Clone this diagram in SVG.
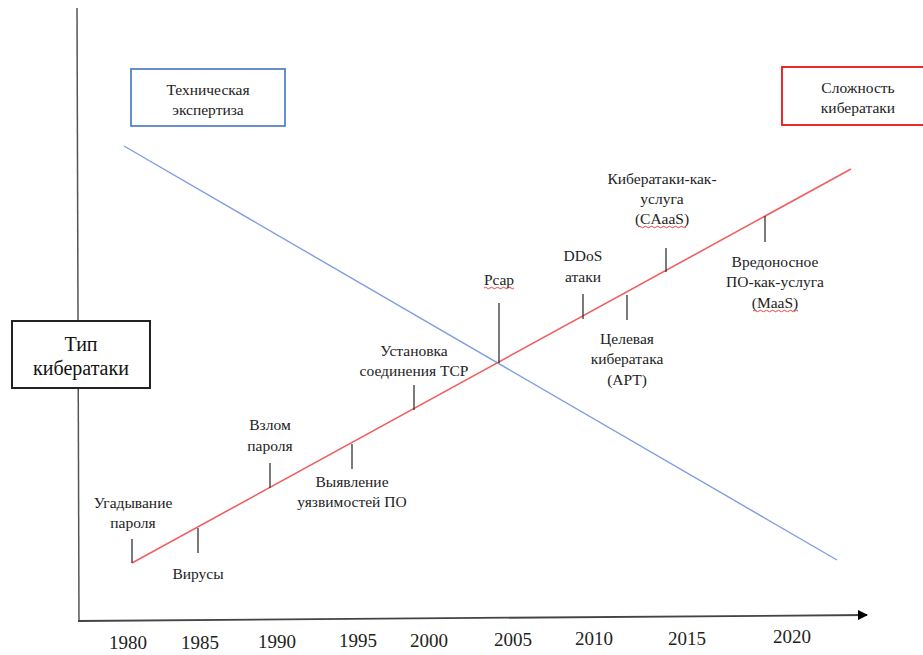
<svg xmlns="http://www.w3.org/2000/svg" width="923" height="655" viewBox="0 0 923 655" font-family="Liberation Serif, Tinos, DejaVu Serif, Noto Serif, serif">
<style>
.t{font-size:15.5px;fill:#222;text-anchor:middle}
.y{font-size:19px;fill:#222;text-anchor:middle}
.big{font-size:20px;fill:#111;text-anchor:middle}
.tick{stroke:#333;stroke-width:1.3}
.sq{fill:none;stroke:#e03030;stroke-width:0.9}
</style>
<defs>
<marker id="arr" markerWidth="10" markerHeight="10" refX="9" refY="5" orient="auto" markerUnits="userSpaceOnUse">
<path d="M0,0 L10,5 L0,10 Z" fill="#000"/>
</marker>
</defs>
<rect width="923" height="655" fill="#fff"/>
<g id="connectors">
<line id="y-axis" x1="77" y1="8" x2="79" y2="621" stroke="#555" stroke-width="1.5"/>
<line id="x-axis" x1="78" y1="621" x2="867" y2="615" stroke="#444" stroke-width="1.8" marker-end="url(#arr)"/>
<line id="expertise-line" x1="124" y1="146" x2="837" y2="560" stroke="#7f9fe0" stroke-width="1.4"/>
<line id="complexity-line" x1="132" y1="563" x2="851" y2="169" stroke="#f06060" stroke-width="1.6"/>
<line class="tick" x1="132" y1="539" x2="132" y2="563"/>
<line class="tick" x1="198" y1="528" x2="198" y2="553"/>
<line class="tick" x1="270" y1="463" x2="270" y2="488"/>
<line class="tick" x1="352" y1="444" x2="352" y2="469"/>
<line class="tick" x1="414" y1="385" x2="414" y2="410"/>
<line class="tick" x1="499" y1="303" x2="499" y2="363"/>
<line class="tick" x1="583" y1="294" x2="583" y2="319"/>
<line class="tick" x1="627" y1="295" x2="627" y2="320"/>
<line class="tick" x1="666" y1="248" x2="666" y2="272"/>
<line class="tick" x1="765" y1="216" x2="765" y2="242"/>
</g>
<g id="node-type">
<rect x="12" y="321" width="138" height="67" fill="#fff" stroke="#222" stroke-width="2"/>
<text class="big" x="81" y="351">Тип</text>
<text class="big" x="81" y="375">кибератаки</text>
</g>
<g id="node-expertise">
<rect x="131" y="69" width="154" height="57" fill="#fff" stroke="#4472c4" stroke-width="1.6"/>
<text class="t" x="208" y="95">Техническая</text>
<text class="t" x="208" y="115">экспертиза</text>
</g>
<g id="node-complexity">
<rect x="782" y="67" width="145" height="58" fill="#fff" stroke="#ee1111" stroke-width="1.8"/>
<text class="t" x="858" y="93">Сложность</text>
<text class="t" x="858" y="113">кибератаки</text>
</g>
<g id="label-1980">
<text class="t" x="133" y="508">Угадывание</text>
<text class="t" x="133" y="528">пароля</text>
</g>
<g id="label-viruses"><text class="t" x="198" y="579">Вирусы</text></g>
<g id="label-1990">
<text class="t" x="270" y="430">Взлом</text>
<text class="t" x="270" y="451">пароля</text>
</g>
<g id="label-1995">
<text class="t" x="352" y="487">Выявление</text>
<text class="t" x="352" y="507">уязвимостей ПО</text>
</g>
<g id="label-2000">
<text class="t" x="414" y="356">Установка</text>
<text class="t" x="414" y="376">соединения TCP</text>
</g>
<g id="label-pcap">
<text class="t" x="499" y="285">Pcap</text>
<path class="sq" d="M484,288 q1.5,-1.5 3,0 t3,0 t3,0 t3,0 t3,0 t3,0 t3,0 t3,0 t3,0 t3,0"/>
</g>
<g id="label-ddos">
<text class="t" x="583" y="261">DDoS</text>
<text class="t" x="583" y="282">атаки</text>
</g>
<g id="label-apt">
<text class="t" x="627" y="344">Целевая</text>
<text class="t" x="627" y="364">кибератака</text>
<text class="t" x="627" y="385">(APT)</text>
</g>
<g id="label-caaas">
<text class="t" x="662" y="184">Кибератаки-как-</text>
<text class="t" x="662" y="204">услуга</text>
<text class="t" x="662" y="224">(CAaaS)</text>
<path class="sq" d="M638,227 q1.5,-1.5 3,0 t3,0 t3,0 t3,0 t3,0 t3,0 t3,0 t3,0 t3,0 t3,0 t3,0 t3,0 t3,0 t3,0 t3,0 t3,0"/>
</g>
<g id="label-maas">
<text class="t" x="775" y="267">Вредоносное</text>
<text class="t" x="775" y="287">ПО-как-услуга</text>
<text class="t" x="775" y="308">(MaaS)</text>
<path class="sq" d="M753,311 q1.5,-1.5 3,0 t3,0 t3,0 t3,0 t3,0 t3,0 t3,0 t3,0 t3,0 t3,0 t3,0 t3,0 t3,0 t3,0 t3,0"/>
</g>
<g id="years">
<text class="y" x="128" y="649">1980</text>
<text class="y" x="200" y="649">1985</text>
<text class="y" x="277" y="648">1990</text>
<text class="y" x="358" y="647">1995</text>
<text class="y" x="429" y="647">2000</text>
<text class="y" x="513" y="646">2005</text>
<text class="y" x="594" y="645">2010</text>
<text class="y" x="687" y="645">2015</text>
<text class="y" x="792" y="643">2020</text>
</g>
</svg>
